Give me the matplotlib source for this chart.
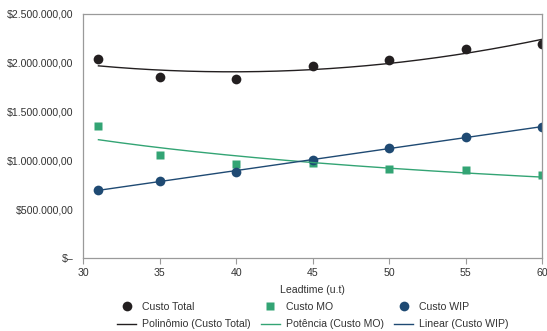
import numpy as np
import matplotlib.pyplot as plt
from matplotlib.ticker import FuncFormatter

plt.rcParams['font.family'] = ['Liberation Sans', 'DejaVu Sans']

leadtime = [31, 35, 40, 45, 50, 55, 60]
custo_total = [2039000, 1855000, 1834000, 1967000, 2029000, 2141000, 2193000]
custo_mo = [1352000, 1055000, 963000, 968000, 910000, 905000, 850000]
custo_wip = [697000, 789000, 881000, 1004000, 1127000, 1240000, 1342000]

y_ticks = [0, 500000, 1000000, 1500000, 2000000, 2500000]
x_ticks = [30, 35, 40, 45, 50, 55, 60]

c_total = '#231f20'
c_mo = '#33a474'
c_wip = '#1f4a73'
txt = '#333333'
grey = '#9a9a9a'
fs = 7.6


def money(v, pos):
    if v == 0:
        return '$\u2013'
    s = '{:,.2f}'.format(v)
    s = s.replace(',', 'X').replace('.', ',').replace('X', '.')
    return '$' + s


x = np.array(leadtime, dtype=float)
xx = np.linspace(x.min(), x.max(), 200)

# trend lines, like excel
p2 = np.polyfit(x, custo_total, 2)
fit_total = np.polyval(p2, xx)
b, loga = np.polyfit(np.log(x), np.log(custo_mo), 1)
fit_mo = np.exp(loga) * xx ** b
p1 = np.polyfit(x, custo_wip, 1)
fit_wip = np.polyval(p1, xx)

fig = plt.figure(figsize=(5.47, 3.31), dpi=100)
ax = fig.add_axes([0.152, 0.2205, 0.839, 0.7375])

h1, = ax.plot(x, custo_total, 'o', color=c_total, ms=7, mec='none', label='Custo Total')
h2, = ax.plot(x, custo_mo, 's', color=c_mo, ms=6.4, mec='none', label='Custo MO')
h3, = ax.plot(x, custo_wip, 'o', color=c_wip, ms=7, mec='none', label='Custo WIP')
l1, = ax.plot(xx, fit_total, '-', color=c_total, lw=1.0, label='Polinômio (Custo Total)')
l2, = ax.plot(xx, fit_mo, '-', color=c_mo, lw=1.0, label='Potência (Custo MO)')
l3, = ax.plot(xx, fit_wip, '-', color=c_wip, lw=1.0, label='Linear (Custo WIP)')

ax.set_xlim(30, 60)
ax.set_ylim(0, 2500000)
ax.set_xticks(x_ticks)
ax.set_yticks(y_ticks)
ax.yaxis.set_major_formatter(FuncFormatter(money))
ax.tick_params(axis='y', length=0, pad=7, labelsize=fs, labelcolor=txt)
ax.tick_params(axis='x', length=4, width=0.8, color=grey, pad=3, labelsize=fs, labelcolor=txt)
for s in ax.spines.values():
    s.set_color(grey)
    s.set_linewidth(0.9)
ax.set_xlabel('Leadtime (u.t)', fontsize=fs, color=txt, labelpad=5)

handles = [h1, l1, h2, l2, h3, l3]
leg = fig.legend(handles=handles, labels=[h.get_label() for h in handles], ncol=3,
                 loc='upper center', bbox_to_anchor=(0.572, 0.105), frameon=False,
                 fontsize=fs, labelcolor=txt, handlelength=1.75, columnspacing=1.0,
                 handletextpad=0.58, labelspacing=0.75, borderpad=0)

fig.savefig('out.png', dpi=100)
